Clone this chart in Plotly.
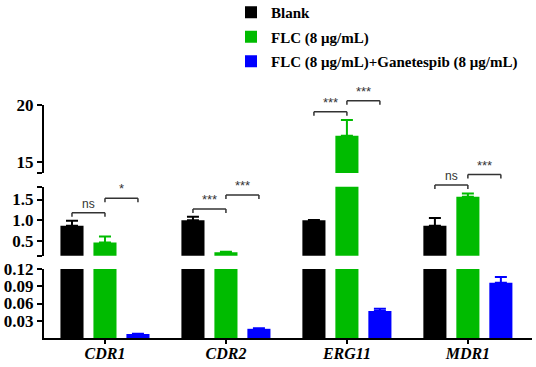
import plotly.graph_objects as go

# ---------------- data ----------------
genes = ["CDR1", "CDR2", "ERG11", "MDR1"]
series_names = ["Blank", "FLC (8 μg/mL)", "FLC (8 μg/mL)+Ganetespib (8 μg/mL)"]
blank = [0.87, 1.005, 1.0, 0.87]
blank_err = [0.12, 0.08, 0.01, 0.185]
flc = [0.47, 0.235, 17.29, 1.566]
flc_err = [0.14, 0.01, 1.39, 0.08]
combo = [0.007, 0.016, 0.047, 0.096]
combo_err = [0.0006, 0.0008, 0.004, 0.010]

# significance brackets: gene index, left bar index (bracket spans to next bar), height, axis segment, label
br_gene = [0, 0, 1, 1, 2, 2, 3, 3]
br_left = [0, 1, 0, 1, 0, 1, 0, 1]
br_y = [1.18, 1.53, 1.27, 1.61, 19.41, 20.38, 1.85, 2.10]
br_seg = ["mid", "mid", "mid", "mid", "top", "top", "mid", "mid"]
br_label = ["ns", "*", "***", "***", "***", "***", "ns", "***"]

# axis segments (broken y axis)
seg_ranges = {"bot": [0, 0.12], "mid": [0.15, 1.806], "top": [13.995, 20.005]}
bot_ticks = [0.03, 0.06, 0.09, 0.12]
bot_text = ["0.03", "0.06", "0.09", "0.12"]
mid_ticks = [0.151, 0.5, 1.0, 1.5, 1.805]
mid_text = ["", "0.5", "1.0", "1.5", ""]
top_ticks = [14, 15, 20]
top_text = ["", "15", "20"]

# ---------------- style ----------------
colors = ["#000000", "#00BB00", "#0000FF"]
W, H = 536, 367
ML, MR, MT, MB = 44, 4, 105, 29
PH = H - MT - MB
seg_domains = {"bot": [0, 0.296], "mid": [0.353, 0.649], "top": [0.708, 1.0]}
seg_axis = {"bot": "y", "mid": "y2", "top": "y3"}
BARGAP = 0.182
SERIF = "Liberation Serif"

fig = go.Figure()
vals = [blank, flc, combo]
errs = [blank_err, flc_err, combo_err]
for seg in ["bot", "mid", "top"]:
    for k in range(3):
        fig.add_trace(go.Bar(
            x=genes, y=vals[k], name=series_names[k],
            yaxis=seg_axis[seg], xaxis="x",
            marker=dict(color=colors[k], line=dict(width=0)),
            error_y=dict(type="data", array=errs[k], arrayminus=[0] * 4, symmetric=False,
                         color=colors[k], thickness=2, width=6),
            showlegend=(seg == "bot"), legendgroup=str(k),
        ))

axis_common = dict(showgrid=False, zeroline=False, showline=True, linecolor="black",
                   linewidth=2, ticks="outside", ticklen=5, tickwidth=2, tickcolor="black",
                   tickfont=dict(family=SERIF, size=17, color="black", weight="bold"),
                   anchor="x")
fig.update_layout(
    yaxis=dict(domain=seg_domains["bot"], range=seg_ranges["bot"], tickmode="array",
               tickvals=bot_ticks, ticktext=bot_text, **axis_common),
    yaxis2=dict(domain=seg_domains["mid"], range=seg_ranges["mid"], tickmode="array",
                tickvals=mid_ticks, ticktext=mid_text, **axis_common),
    yaxis3=dict(domain=seg_domains["top"], range=seg_ranges["top"], tickmode="array",
                tickvals=top_ticks, ticktext=top_text, **axis_common),
    xaxis=dict(type="category", range=[-0.504, 3.53], showgrid=False, zeroline=False,
               showline=True, linecolor="black", linewidth=2, ticks="outside",
               ticklen=4, tickwidth=2, tickcolor="black", anchor="y",
               ticklabelstandoff=-4,
               tickfont=dict(family=SERIF, size=16, color="black", weight="bold", style="italic")),
    barmode="group", bargap=BARGAP, bargroupgap=0.30,
    width=W, height=H, margin=dict(l=ML, r=MR, t=MT, b=MB, autoexpand=False),
    plot_bgcolor="white", paper_bgcolor="white",
    legend=dict(x=(231 - ML) / (W - ML - MR), xanchor="left", y=(H - MB + 4) / PH, yanchor="top",
                font=dict(family=SERIF, size=15, color="black", weight="bold"),
                bgcolor="rgba(0,0,0,0)", traceorder="grouped", tracegroupgap=2,
                itemwidth=30),
)


def to_paper(seg, v):
    d0, d1 = seg_domains[seg]
    r0, r1 = seg_ranges[seg]
    return d0 + (v - r0) / (r1 - r0) * (d1 - d0)


slot = (1 - BARGAP) / 3
drop = 4 / PH
for g, left, yv, seg, lab in zip(br_gene, br_left, br_y, br_seg, br_label):
    x0 = g + (left - 1) * slot
    x1 = x0 + slot
    yp = to_paper(seg, yv)
    for (xa, ya, xb, yb) in [(x0, yp - drop, x0, yp), (x0, yp, x1, yp), (x1, yp, x1, yp - drop)]:
        fig.add_shape(type="line", xref="x", yref="paper", x0=xa, y0=ya, x1=xb, y1=yb,
                      line=dict(color="#333333", width=1.5))
    fig.add_annotation(x=(x0 + x1) / 2, y=yp, xref="x", yref="paper", text=lab,
                       showarrow=False, yanchor="bottom",
                       font=dict(family="Liberation Sans", size=12 if lab == "ns" else 13,
                                 color="#333333"))

fig.write_html("out.html", config={"displayModeBar": False},
               post_script="document.body.style.margin='0';document.body.style.padding='0';")
